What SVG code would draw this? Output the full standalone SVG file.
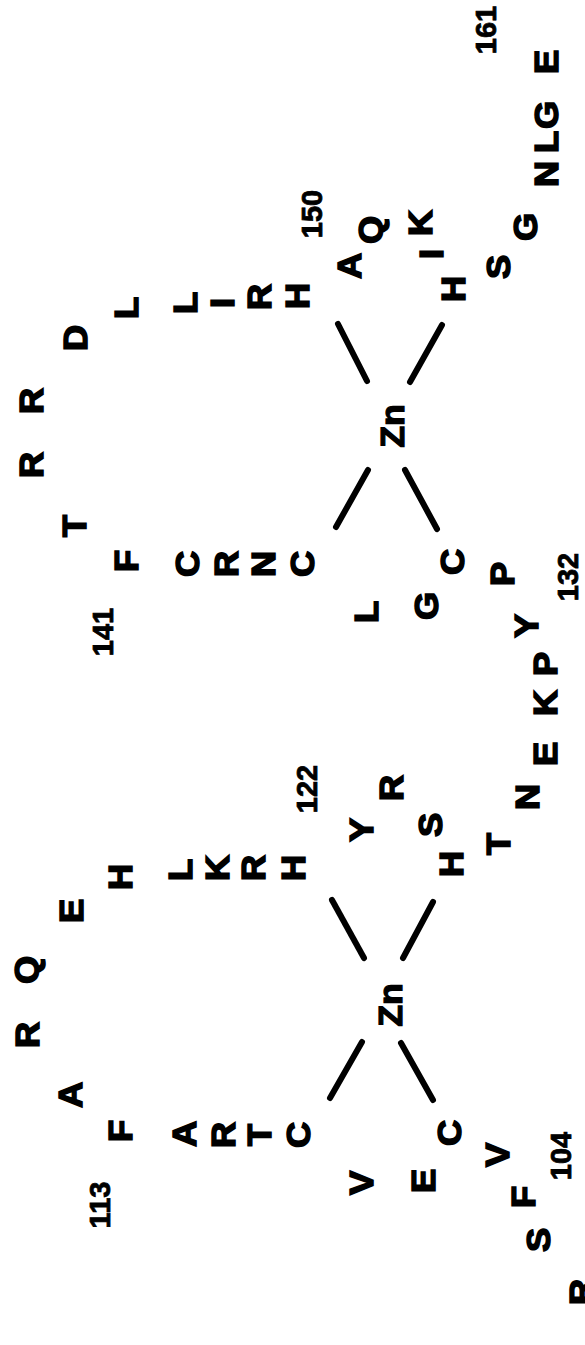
<svg xmlns="http://www.w3.org/2000/svg" width="585" height="1345" viewBox="0 0 585 1345">
  <style>
    text { font-family: "Liberation Sans", Arial, Helvetica, sans-serif; font-weight: bold; fill: #000; stroke: #000; text-anchor: middle; }
    .aa { font-size: 33px; stroke-width: 1.5; }
    .num { font-size: 29px; stroke-width: 0.8; }
    .zn { font-size: 33px; stroke-width: 1.2; }
    .bond { stroke: #000; stroke-width: 6; stroke-linecap: round; fill: none; }
  </style>
  <rect width="585" height="1345" fill="#fff"/>

  <!-- coordination bonds to the two zinc ions -->
  <g id="connectors">
    <line class="bond" x1="338" y1="324" x2="367" y2="381"/>
    <line class="bond" x1="442" y1="325" x2="410" y2="382"/>
    <line class="bond" x1="368" y1="470" x2="336" y2="527"/>
    <line class="bond" x1="405" y1="470" x2="437" y2="529"/>
    <line class="bond" x1="332" y1="900" x2="364" y2="958"/>
    <line class="bond" x1="433" y1="902" x2="403" y2="958"/>
    <line class="bond" x1="362" y1="1042" x2="330" y2="1098"/>
    <line class="bond" x1="401" y1="1043" x2="433" y2="1100"/>
  </g>

  <!-- zinc ions -->
  <g id="zinc-1">
    <text class="zn" transform="translate(390,1005) rotate(-90) scale(1.08,1)" y="11.8">Zn</text>
  </g>
  <g id="zinc-2">
    <text class="zn" transform="translate(392,426) rotate(-90) scale(1.08,1)" y="11.8">Zn</text>
  </g>

  <!-- finger 1: residues 102-131 -->
  <g id="finger-1">
    <text class="aa" transform="translate(581,1292) rotate(-90) scale(1.1,1)" y="11.8">R</text>
    <text class="aa" transform="translate(538,1240) rotate(-90) scale(1.1,1)" y="11.8">S</text>
    <text class="aa" transform="translate(523,1197) rotate(-90) scale(1.1,1)" y="11.8">F</text>
    <text class="aa" transform="translate(497,1155) rotate(-90) scale(1.1,1)" y="11.8">V</text>
    <text class="aa" transform="translate(449,1133) rotate(-90) scale(1.1,1)" y="11.8">C</text>
    <text class="aa" transform="translate(423,1181) rotate(-90) scale(1.1,1)" y="11.8">E</text>
    <text class="aa" transform="translate(361,1183) rotate(-90) scale(1.1,1)" y="11.8">V</text>
    <text class="aa" transform="translate(298,1135) rotate(-90) scale(1.1,1)" y="11.8">C</text>
    <text class="aa" transform="translate(259,1135) rotate(-90) scale(1.1,1)" y="11.8">T</text>
    <text class="aa" transform="translate(223,1135) rotate(-90) scale(1.1,1)" y="11.8">R</text>
    <text class="aa" transform="translate(184,1134) rotate(-90) scale(1.1,1)" y="11.8">A</text>
    <text class="aa" transform="translate(120,1131) rotate(-90) scale(1.1,1)" y="11.8">F</text>
    <text class="aa" transform="translate(70,1095) rotate(-90) scale(1.1,1)" y="11.8">A</text>
    <text class="aa" transform="translate(27,1035) rotate(-90) scale(1.1,1)" y="11.8">R</text>
    <text class="aa" transform="translate(26,970) rotate(-90) scale(1.1,1)" y="11.8">Q</text>
    <text class="aa" transform="translate(71,911) rotate(-90) scale(1.1,1)" y="11.8">E</text>
    <text class="aa" transform="translate(120,877) rotate(-90) scale(1.1,1)" y="11.8">H</text>
    <text class="aa" transform="translate(180,870) rotate(-90) scale(1.1,1)" y="11.8">L</text>
    <text class="aa" transform="translate(217,868) rotate(-90) scale(1.1,1)" y="11.8">K</text>
    <text class="aa" transform="translate(253,868) rotate(-90) scale(1.1,1)" y="11.8">R</text>
    <text class="aa" transform="translate(293,868) rotate(-90) scale(1.1,1)" y="11.8">H</text>
    <text class="aa" transform="translate(361,830) rotate(-90) scale(1.1,1)" y="11.8">Y</text>
    <text class="aa" transform="translate(391,788) rotate(-90) scale(1.1,1)" y="11.8">R</text>
    <text class="aa" transform="translate(430,825) rotate(-90) scale(1.1,1)" y="11.8">S</text>
    <text class="aa" transform="translate(451,864) rotate(-90) scale(1.1,1)" y="11.8">H</text>
    <text class="aa" transform="translate(498,844) rotate(-90) scale(1.1,1)" y="11.8">T</text>
    <text class="aa" transform="translate(527,797) rotate(-90) scale(1.1,1)" y="11.8">N</text>
    <text class="aa" transform="translate(545,754) rotate(-90) scale(1.1,1)" y="11.8">E</text>
    <text class="aa" transform="translate(545,703) rotate(-90) scale(1.1,1)" y="11.8">K</text>
    <text class="aa" transform="translate(545,664) rotate(-90) scale(1.1,1)" y="11.8">P</text>
  </g>

  <!-- finger 2: residues 132-161 -->
  <g id="finger-2">
    <text class="aa" transform="translate(526,626) rotate(-90) scale(1.1,1)" y="11.8">Y</text>
    <text class="aa" transform="translate(502,574) rotate(-90) scale(1.1,1)" y="11.8">P</text>
    <text class="aa" transform="translate(452,562) rotate(-90) scale(1.1,1)" y="11.8">C</text>
    <text class="aa" transform="translate(426,606) rotate(-90) scale(1.1,1)" y="11.8">G</text>
    <text class="aa" transform="translate(366,612) rotate(-90) scale(1.1,1)" y="11.8">L</text>
    <text class="aa" transform="translate(302,564) rotate(-90) scale(1.1,1)" y="11.8">C</text>
    <text class="aa" transform="translate(263,564) rotate(-90) scale(1.1,1)" y="11.8">N</text>
    <text class="aa" transform="translate(226,564) rotate(-90) scale(1.1,1)" y="11.8">R</text>
    <text class="aa" transform="translate(187,564) rotate(-90) scale(1.1,1)" y="11.8">C</text>
    <text class="aa" transform="translate(126,561) rotate(-90) scale(1.1,1)" y="11.8">F</text>
    <text class="aa" transform="translate(74,526) rotate(-90) scale(1.1,1)" y="11.8">T</text>
    <text class="aa" transform="translate(31,465) rotate(-90) scale(1.1,1)" y="11.8">R</text>
    <text class="aa" transform="translate(31,401) rotate(-90) scale(1.1,1)" y="11.8">R</text>
    <text class="aa" transform="translate(75,338) rotate(-90) scale(1.1,1)" y="11.8">D</text>
    <text class="aa" transform="translate(126,308) rotate(-90) scale(1.1,1)" y="11.8">L</text>
    <text class="aa" transform="translate(185,303) rotate(-90) scale(1.1,1)" y="11.8">L</text>
    <text class="aa" transform="translate(222,303) rotate(-90) scale(1.1,1)" y="11.8">I</text>
    <text class="aa" transform="translate(259,297) rotate(-90) scale(1.1,1)" y="11.8">R</text>
    <text class="aa" transform="translate(297,296) rotate(-90) scale(1.1,1)" y="11.8">H</text>
    <text class="aa" transform="translate(349,266) rotate(-90) scale(1.1,1)" y="11.8">A</text>
    <text class="aa" transform="translate(370,230) rotate(-90) scale(1.1,1)" y="11.8">Q</text>
    <text class="aa" transform="translate(420,223) rotate(-90) scale(1.1,1)" y="11.8">K</text>
    <text class="aa" transform="translate(431,254) rotate(-90) scale(1.1,1)" y="11.8">I</text>
    <text class="aa" transform="translate(453,289) rotate(-90) scale(1.1,1)" y="11.8">H</text>
    <text class="aa" transform="translate(498,267) rotate(-90) scale(1.1,1)" y="11.8">S</text>
    <text class="aa" transform="translate(525,227) rotate(-90) scale(1.1,1)" y="11.8">G</text>
    <text class="aa" transform="translate(546,174) rotate(-90) scale(1.1,1)" y="11.8">N</text>
    <text class="aa" transform="translate(546,142) rotate(-90) scale(1.1,1)" y="11.8">L</text>
    <text class="aa" transform="translate(546,115) rotate(-90) scale(1.1,1)" y="11.8">G</text>
    <text class="aa" transform="translate(546,62) rotate(-90) scale(1.1,1)" y="11.8">E</text>
  </g>

  <!-- residue numbering -->
  <g id="numbers">
    <text class="num" transform="translate(561,1156) rotate(-90)" y="10.4">104</text>
    <text class="num" transform="translate(100,1205) rotate(-90)" y="10.4">113</text>
    <text class="num" transform="translate(307,789) rotate(-90)" y="10.4">122</text>
    <text class="num" transform="translate(568,577) rotate(-90)" y="10.4">132</text>
    <text class="num" transform="translate(103,632) rotate(-90)" y="10.4">141</text>
    <text class="num" transform="translate(312,214) rotate(-90)" y="10.4">150</text>
    <text class="num" transform="translate(486,30) rotate(-90)" y="10.4">161</text>
  </g>
</svg>
